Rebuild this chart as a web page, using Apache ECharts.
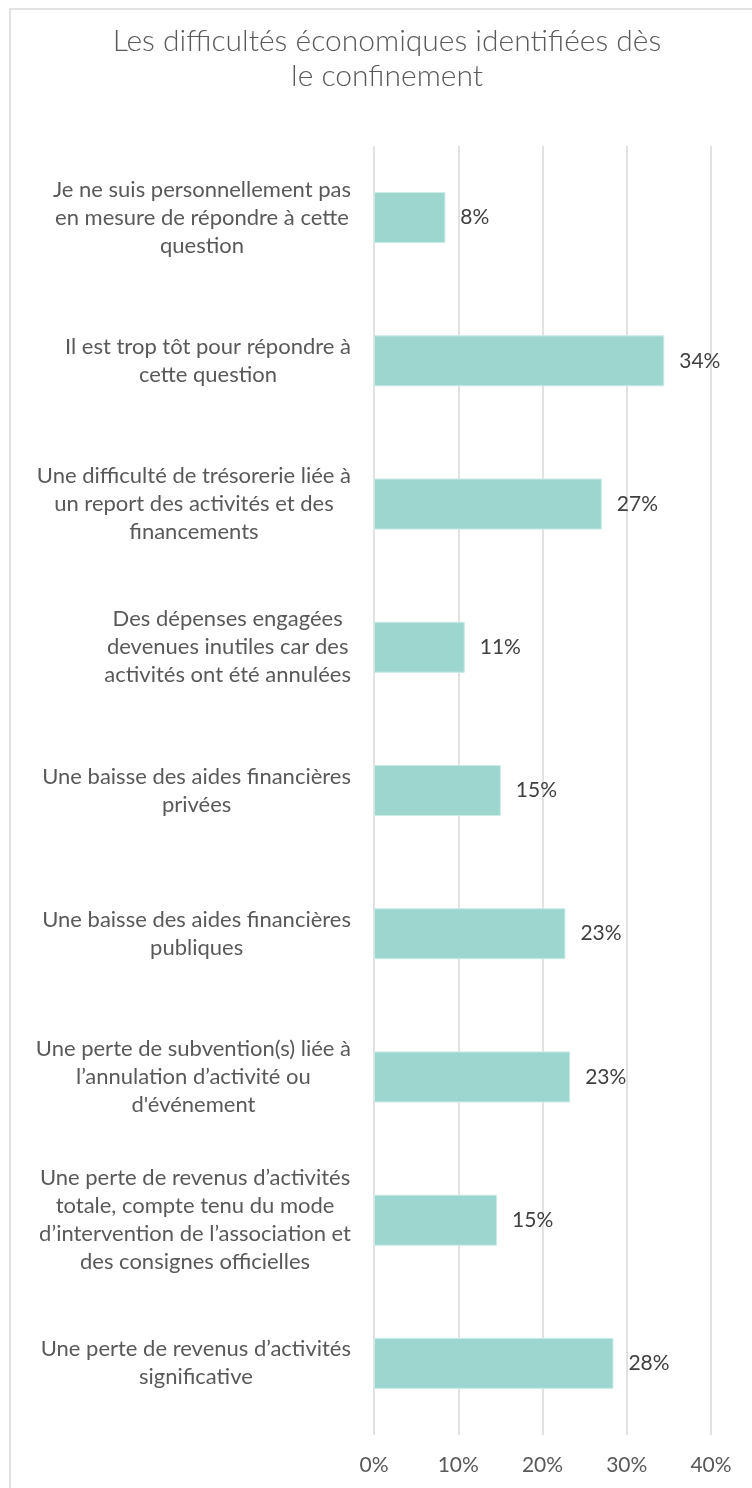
<!DOCTYPE html>
<html>
<head>
<meta charset="utf-8">
<script src="https://cdn.jsdelivr.net/npm/echarts@6/dist/echarts.min.js"></script>
<style>
  html, body { margin: 0; padding: 0; background: #ffffff; }
  #chart { width: 752px; height: 1488px; }
</style>
</head>
<body>
<div id="chart"></div>
<script>
// categories (top to bottom), line breaks as in the original
const categories = [
  "Je ne suis personnellement pas\nen mesure de répondre à cette\nquestion",
  "Il est trop tôt pour répondre à\ncette question",
  "Une difficulté de trésorerie liée à\nun report des activités et des\nfinancements",
  "Des dépenses engagées\ndevenues inutiles car des\nactivités ont été annulées",
  "Une baisse des aides financières\nprivées",
  "Une baisse des aides financières\npubliques",
  "Une perte de subvention(s) liée à\nl’annulation d’activité ou\nd'événement",
  "Une perte de revenus d’activités\ntotale, compte tenu du mode\nd’intervention de l’association et\ndes consignes officielles",
  "Une perte de revenus d’activités\nsignificative"
];
// percentages
const values = [8.47, 34.45, 27.04, 10.77, 15.05, 22.72, 23.28, 14.61, 28.42];
const axisMin = 0;
const axisMax = 40;
const axisStep = 10;

const titleText = "Les difficultés économiques identifiées dès\nle confinement";

const chart = echarts.init(document.getElementById("chart"));

const option = {
  backgroundColor: "#ffffff",
  animation: false,
  title: {
    text: titleText,
    left: 382,
    top: 19,
    textAlign: "center",
    textStyle: {
      fontFamily: "Lato",
      fontWeight: 300,
      fontSize: 30,
      lineHeight: 35,
      color: "#595959",
    },
  },
  graphic: [
    {
      type: "rect",
      shape: { x: 10, y: 9, width: 800, height: 1560 },
      style: { fill: null, stroke: "#d9d9d9", lineWidth: 1.5 },
      silent: true,
      z: -1,
    },
  ],
  grid: {
    left: 374,
    right: 41,
    top: 146,
    bottom: 53,
    containLabel: false,
  },
  xAxis: {
    type: "value",
    min: axisMin,
    max: axisMax,
    interval: axisStep,
    axisLine: { show: false },
    axisTick: { show: false },
    splitLine: {
      show: true,
      lineStyle: { color: "#d9d9d9", width: 1.5 },
    },
    axisLabel: {
      margin: 20,
      fontFamily: "Lato",
      fontSize: 21,
      color: "#595959",
      formatter: function (v) {
        return v + "%";
      },
    },
  },
  yAxis: {
    type: "category",
    inverse: true,
    data: categories,
    axisLine: { show: false },
    axisTick: { show: false },
    splitLine: { show: false },
    axisLabel: {
      margin: 23,
      align: "right",
      formatter: function (v) {
        return v
          .split("\n")
          .map(function (l) {
            return "{c|" + l + "}";
          })
          .join("\n");
      },
      rich: {
        c: {
          align: "center",
          fontFamily: "Lato",
          fontSize: 22,
          lineHeight: 28,
          color: "#595959",
        },
      },
    },
  },
  series: [
    {
      name: "Difficultés",
      type: "bar",
      data: values,
      barWidth: 51,
      itemStyle: {
        color: "#9dd6ce",
        borderColor: "#c9ebe6",
        borderWidth: 1,
      },
      label: {
        show: true,
        position: "right",
        distance: 15,
        fontFamily: "Lato",
        fontSize: 21,
        color: "#404040",
        formatter: function (p) {
          return Math.round(p.value) + "%";
        },
      },
    },
  ],
};

chart.setOption(option);
</script>
</body>
</html>
